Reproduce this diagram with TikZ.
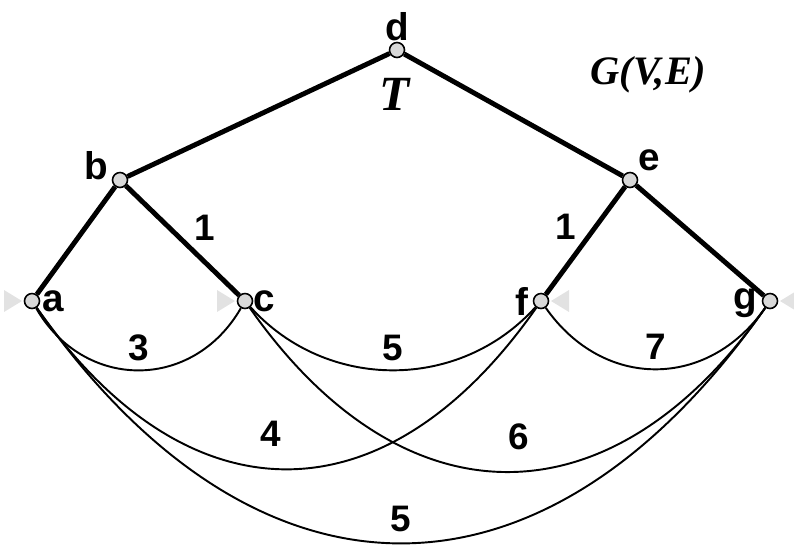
\documentclass[tikz,border=0pt]{standalone}
\usepackage{fontspec}
\usepackage{tikz}
\newfontfamily\gsans{Liberation Sans}
\newfontfamily\gserif{Liberation Serif}
\usetikzlibrary{
  calc
}
\definecolor{gVertex}{HTML}{D8D8D8}
\definecolor{gMarker}{HTML}{E2E2E2}
\tikzset{
  vertex/.style={
    draw, circle, fill=gVertex, line width=0.9pt, minimum size=0.3cm, inner sep=0pt
  },
  vname/.style={font=\gsans\fontsize{22}{24}\selectfont\bfseries, inner sep=0pt},
  weight/.style={font=\gsans\fontsize{21}{23}\selectfont\bfseries, inner sep=2pt},
  gtitle/.style={font=\gserif\fontsize{#1}{#1}\selectfont\bfseries\itshape, inner sep=0pt},
  treeedge/.style={line width=2.8pt},
  graphedge/.style={line width=1.1pt},
  gmarker/.style={fill=gMarker}
}

\begin{document}
\begin{tikzpicture}[x=0.02cm, y=0.02cm]
  \useasboundingbox (0,0) rectangle (794,-548);
  % vertices
  \node[vertex] (d) at (397,-50) {};
  \node[vertex] (b) at (120,-180) {};
  \node[vertex] (e) at (630,-180) {};
  \node[vertex] (a) at (32,-301) {};
  \node[vertex] (c) at (245,-301) {};
  \node[vertex] (f) at (541,-301) {};
  \node[vertex] (g) at (770,-301) {};
  \foreach \n/\s in {a/-1,c/-1,f/1,g/1}{
    \fill[gmarker] ($(\n)+(\s*10,0)$) -- ($(\n)+(\s*28,11)$) -- ($(\n)+(\s*28,-11)$) -- cycle;
  }
  % vertex names
  \node[vname] (nd) at (397,-27) {d};
  \node[vname] (nb) at (96,-166) {b};
  \node[vname] (ne) at (649,-160) {e};
  \node[vname] (na) at (53,-301) {a};
  \node[vname] (nc) at (264,-301) {c};
  \node[vname] (nf) at (522,-301) {f};
  \node[vname] (ng) at (745,-303) {g};
  \node[gtitle=28] (tname) at (395,-94) {T};
  \node[gtitle=23] (gname) at (648,-75) {G(V,E)};
  % spanning tree
  \draw[treeedge] (d) -- (b);
  \draw[treeedge] (d) -- (e);
  \draw[treeedge] (b) -- (a);
  \draw[treeedge] (b) -- node[weight, pos=0.55, above right] {1} (c);
  \draw[treeedge] (e) -- node[weight, pos=0.55, above left] {1} (f);
  \draw[treeedge] (e) -- (g);
  % other edges
  \foreach \u/\v/\w/\o/\i/\lo/\p/\h in {a/c/3/-60/-120/1.2/0.5/3pt, c/f/5/-48/-132/1.02/0.5/3pt,
      f/g/7/-55/-125/1.17/0.5/3pt, a/f/4/-55/-125/1.35/0.47/10pt, c/g/6/-55/-125/1.33/0.52/10pt,
      a/g/5/-55/-125/1.35/0.5/4pt}{
    \draw[graphedge] (\u) to[out=\o, in=\i, looseness=\lo] node[weight, pos=\p, above=\h] {\w} (\v);
  }
\end{tikzpicture}
\end{document}
